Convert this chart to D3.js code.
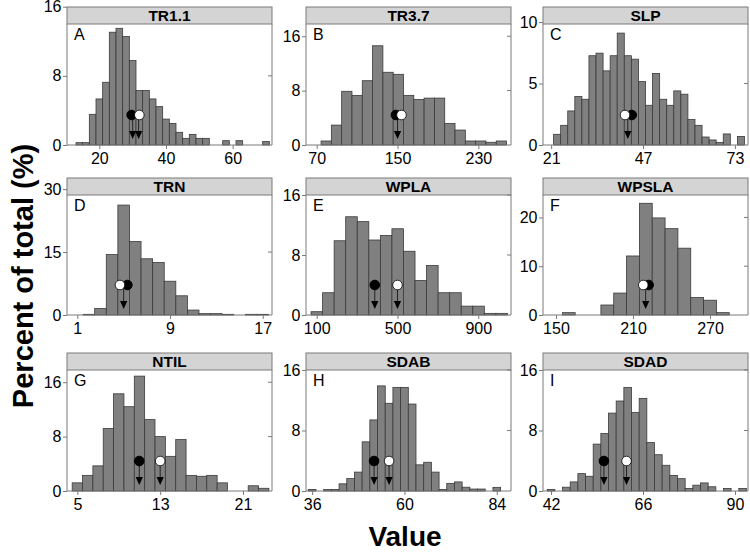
<!DOCTYPE html>
<html><head><meta charset="utf-8">
<script src="https://cdn.jsdelivr.net/npm/d3@7"></script>
<style>body{margin:0;background:#fff} text{font-family:"Liberation Sans",Arial,sans-serif}</style>
</head><body><svg id="c" width="750" height="552"></svg>
<script>
// ---------- data ----------
const panelNames = ["TR1.1","TR3.7","SLP","TRN","WPLA","WPSLA","NTIL","SDAB","SDAD"];
const panelLetters = ["A","B","C","D","E","F","G","H","I"];
const binStarts = [13, 74.3, 21.7, 1.5, 72, 155, 4.5, 35, 41];
const binWidths = [2, 10.2, 2, 1, 57.2, 10, 1, 2, 2];
const pctTR11 = [0.27,0.27,3.55,5.33,7.26,13.05,13.5,12.55,9.77,6.3,6.3,5.33,4.44,3.0,2.5,1.47,0.77,1.23,0.77,0.77,0,0,0.5,0,0.5,0,0,0,0.4];
const pctTR37 = [0.59,2.93,7.9,7.3,9.46,14.6,10.7,10.4,7.3,6.7,6.9,6.9,3.17,2.2,0.59,0.59,0.4,0.59];
const pctSLP = [0.87,1.6,2.77,3.94,3.72,7.26,7.47,6.03,7.26,9.1,7.26,6.98,5.16,3.23,5.82,3.72,3.23,4.4,4.13,2.07,1.6,0.65,0.41,0.2,0.9,0,0.7];
const pctTRN = [0.16,1.58,14.4,26.2,17.5,13.4,12.5,8.05,4.58,1.18,0.32,0.32,0.16,0,0.16,0.16];
const pctWPLA = [0.44,2.97,9.9,13.1,12.45,10.0,10.6,11.5,8.5,4.6,6.6,2.97,2.97,1.18,1.18,0.22,0.22];
const pctWPSLA = [0.48,0,0,2.05,4.5,12.1,22.9,19.9,17.7,13.7,3.59,3.03,0.48];
const pctNTIL = [1.2,2.3,3.7,9.2,14.3,12.4,16.9,10.5,8.0,5.1,7.57,2.3,2.17,2.3,1.2,0,0,0.77,0.4];
const pctSDAB = [0.2,0,0.2,0.2,0.95,1.64,2.5,6.5,9.4,13.9,11.6,13.7,13.7,11.5,3.46,3.8,2.5,0.2,1.0,1.2,0.5,0.26,0.26,0,0.48];
const pctSDAD = [0.2,0,0.5,1.2,2.3,1.95,6.2,7.6,10.3,11.9,13.7,10.4,12.25,6.4,4.8,3.4,2.06,1.63,0.34,0.77,1.07,0.56,0,0.34,0,0.34];
const pctSeries = [pctTR11,pctTR37,pctSLP,pctTRN,pctWPLA,pctWPSLA,pctNTIL,pctSDAB,pctSDAD];
const xDomains = [[10.3,71.8],[59.4,262.3],[18.7,76.7],[0.11,17.8],[47,1062],[139.9,299.6],[4.0,23.8],[34.4,87.7],[39.9,93.4]];
const xTickVals = [[20,40,60],[70,150,230],[21,47,73],[1,9,17],[100,500,900],[150,210,270],[5,13,21],[36,60,84],[42,66,90]];
const yMax = [14.0,17.8,9.84,28.6,16,24.6,17.8,16,16];
const yTickVals = [[0,8,16],[0,8,16],[0,5,10],[0,15,30],[0,8,16],[0,10,20],[0,8,16],[0,8,16],[0,8,16]];
const blackMeans = [29.7,148.4,43.8,5.32,387.6,222.2,10.98,52.1,55.8];
const whiteMeans = [32.0,153.9,41.9,4.68,500,218,13.0,56.0,61.7];
const arrowVals = [[30.0,31.8],[150],[42.7],[5.0],[387.6,500],[219.9],[10.98,13.0],[52.1,56.0],[55.8,61.7]];

// ---------- layout ----------
const svg = d3.select("#c");
const colLeft = [67, 306, 543], panelW = 205;
const rowTop = [24, 195, 370], panelH = [121, 120, 121], stripH = 17;
const frameCol = "#7a7a7a";

panelNames.forEach((name, i) => {
  const col = i % 3, row = Math.floor(i / 3);
  const L = colLeft[col], R = L + panelW, T = rowTop[row], B = T + panelH[row];
  const x = d3.scaleLinear().domain(xDomains[i]).range([L, R]);
  const y = d3.scaleLinear().domain([0, yMax[i]]).range([B, T]);
  const g = svg.append("g");

  // bars
  const bins = pctSeries[i].map((v, k) => ({x0: binStarts[i] + k * binWidths[i], x1: binStarts[i] + (k + 1) * binWidths[i], v}))
    .filter(d => d.v > 0);
  g.selectAll("rect.bar").data(bins).join("rect")
    .attr("x", d => x(d.x0)).attr("width", d => x(d.x1) - x(d.x0))
    .attr("y", d => y(d.v)).attr("height", d => y(0) - y(d.v))
    .attr("fill", "#808080").attr("stroke", "#3a3a3a").attr("stroke-width", 0.8);

  // frame
  g.append("path").attr("d", `M${L},${T}V${B}H${R}V${T}`).attr("fill", "none").attr("stroke", frameCol).attr("stroke-width", 1);

  // strip
  g.append("rect").attr("x", L).attr("y", T - stripH).attr("width", panelW).attr("height", stripH)
    .attr("fill", "#d4d4d4").attr("stroke", frameCol).attr("stroke-width", 1);
  g.append("text").attr("x", (L + R) / 2).attr("y", T - 3.5).attr("text-anchor", "middle")
    .attr("font-size", 15.5).attr("font-weight", "bold").text(name);

  // axes
  const ya = g.append("g").attr("transform", `translate(${L},0)`)
    .call(d3.axisLeft(y).tickValues(yTickVals[i]).tickSize(4).tickPadding(1.5).tickSizeOuter(0));
  const xa = g.append("g").attr("transform", `translate(0,${B})`)
    .call(d3.axisBottom(x).tickValues(xTickVals[i]).tickSize(4).tickPadding(4).tickSizeOuter(0));
  [ya, xa].forEach(a => {
    a.select(".domain").remove();
    a.selectAll(".tick line").attr("stroke", frameCol);
    a.selectAll(".tick text").attr("font-size", 16).attr("fill", "#000")
      .attr("font-family", '"Liberation Sans",Arial,sans-serif');
  });
  // inner right ticks
  g.selectAll("line.rt").data(yTickVals[i].filter(v => v > 0 && v <= yMax[i])).join("line")
    .attr("x1", R).attr("x2", R - 4).attr("y1", d => y(d)).attr("y2", d => y(d))
    .attr("stroke", frameCol);

  // letter
  g.append("text").attr("x", L + 7).attr("y", T + 16).attr("font-size", 16).text(panelLetters[i]);

  // arrows
  const my = B - 30;
  arrowVals[i].forEach(a => {
    g.append("line").attr("x1", x(a)).attr("x2", x(a)).attr("y1", my).attr("y2", B - 12)
      .attr("stroke", "#222").attr("stroke-width", 1);
    g.append("path").attr("d", `M${x(a) - 3.6},${B - 14}L${x(a) + 3.6},${B - 14}L${x(a)},${B - 6}Z`).attr("fill", "#000");
  });
  g.append("circle").attr("cx", x(blackMeans[i])).attr("cy", my).attr("r", 4.8).attr("fill", "#000").attr("stroke", "#000");
  g.append("circle").attr("cx", x(whiteMeans[i])).attr("cy", my).attr("r", 4.8).attr("fill", "#fff").attr("stroke", "#000").attr("stroke-width", 0.8);
});

// titles
svg.append("text").attr("transform", "translate(33,276) rotate(-90)").attr("text-anchor", "middle")
  .attr("font-size", 29).attr("font-weight", "bold").text("Percent of total (%)");
svg.append("text").attr("x", 405).attr("y", 546).attr("text-anchor", "middle")
  .attr("font-size", 28).attr("font-weight", "bold").text("Value");
</script></body></html>
